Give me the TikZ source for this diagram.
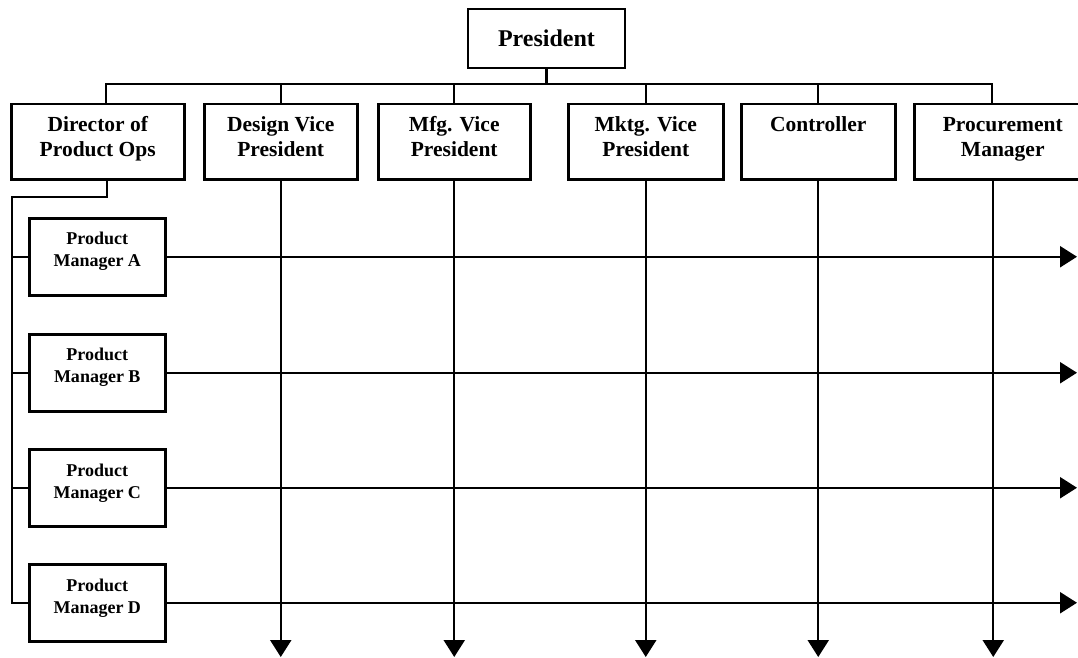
\documentclass[tikz,border=0pt]{standalone}
\usepackage{fontspec}
\setmainfont{Liberation Serif}
\usetikzlibrary{arrows.meta}
\newcommand\boxtxt[4]{\parbox[t][#2][t]{#1}{\centering\rule{0pt}{#3}#4}}
\tikzset{
  box/.style={draw, line width=2.5pt, inner sep=0pt, anchor=north west,
    font=\bfseries\fontsize{21.5}{25}\selectfont},
  pmbox/.style={draw, line width=2.5pt, inner sep=0pt, anchor=north west,
    font=\bfseries\fontsize{18}{22}\selectfont},
  link/.style={line width=2.3pt},
  arr/.style={line width=2.3pt, -{Triangle[length=17pt,width=21pt]}}
}
\begin{document}
\begin{tikzpicture}[x=1pt,y=-1pt]
\useasboundingbox (0,0) rectangle (1078,658);
\clip (0,0) rectangle (1078,658);
% top
\node[draw, line width=2.5pt, minimum width=157pt, minimum height=59pt, inner sep=0pt,
  font=\bfseries\fontsize{24}{28}\selectfont] (pres) at (546.5,38.5) {President};
% second row
\node[box] (dir)  at (10,103)  {\boxtxt{173pt}{75pt}{27pt}{Director of\\Product Ops}};
\node[box] (des)  at (203,103) {\boxtxt{153pt}{75pt}{27pt}{Design Vice\\President}};
\node[box] (mfg)  at (377,103) {\boxtxt{152pt}{75pt}{27pt}{Mfg. Vice\\President}};
\node[box] (mktg) at (567,103) {\boxtxt{155pt}{75pt}{27pt}{Mktg. Vice\\President}};
\node[box] (ctrl) at (740,103) {\boxtxt{154pt}{75pt}{27pt}{Controller}};
\node[box] (proc) at (913,103) {\boxtxt{177pt}{75pt}{27pt}{Procurement\\Manager}};
% product managers
\node[pmbox] (pmA) at (28,217) {\boxtxt{136pt}{77pt}{26pt}{Product\\Manager A}};
\node[pmbox] (pmB) at (28,333) {\boxtxt{136pt}{77pt}{26pt}{Product\\Manager B}};
\node[pmbox] (pmC) at (28,448) {\boxtxt{136pt}{77pt}{27pt}{Product\\Manager C}};
\node[pmbox] (pmD) at (28,563) {\boxtxt{136pt}{77pt}{27pt}{Product\\Manager D}};
% coordinates
\coordinate (busL) at (106,84);
\coordinate (busR) at (992,84);
\coordinate (spineT) at (12,197);
\coordinate (bottom) at (0,657);
\coordinate (right) at (1077,0);
\coordinate (dirS) at ([xshift=9.5pt]dir.south);
\coordinate (procS) at ([xshift=-9.5pt]proc.south);
% bus
\draw[link] (pres.south) -- (pres.south |- busL);
\draw[link] (busL |- dir.north) -- (busL) -- (busR) -- (busR |- proc.north);
\draw[link] (des.north |- busL) -- (des.north);
\draw[link] (mfg.north |- busL) -- (mfg.north);
\draw[link] (mktg.north |- busL) -- (mktg.north);
\draw[link] (ctrl.north |- busL) -- (ctrl.north);
% director spine
\draw[link] (dirS) |- (spineT) |- (pmD.west);
\draw[link] (pmA.west -| spineT) -- (pmA.west);
\draw[link] (pmB.west -| spineT) -- (pmB.west);
\draw[link] (pmC.west -| spineT) -- (pmC.west);
% horizontal arrows
\draw[arr] (pmA.east) -- (pmA.east -| right);
\draw[arr] (pmB.east) -- (pmB.east -| right);
\draw[arr] (pmC.east) -- (pmC.east -| right);
\draw[arr] (pmD.east) -- (pmD.east -| right);
% vertical arrows
\draw[arr] (des.south) -- (des.south |- bottom);
\draw[arr] (mfg.south) -- (mfg.south |- bottom);
\draw[arr] (mktg.south) -- (mktg.south |- bottom);
\draw[arr] (ctrl.south) -- (ctrl.south |- bottom);
\draw[arr] (procS) -- (procS |- bottom);
\end{tikzpicture}
\end{document}
